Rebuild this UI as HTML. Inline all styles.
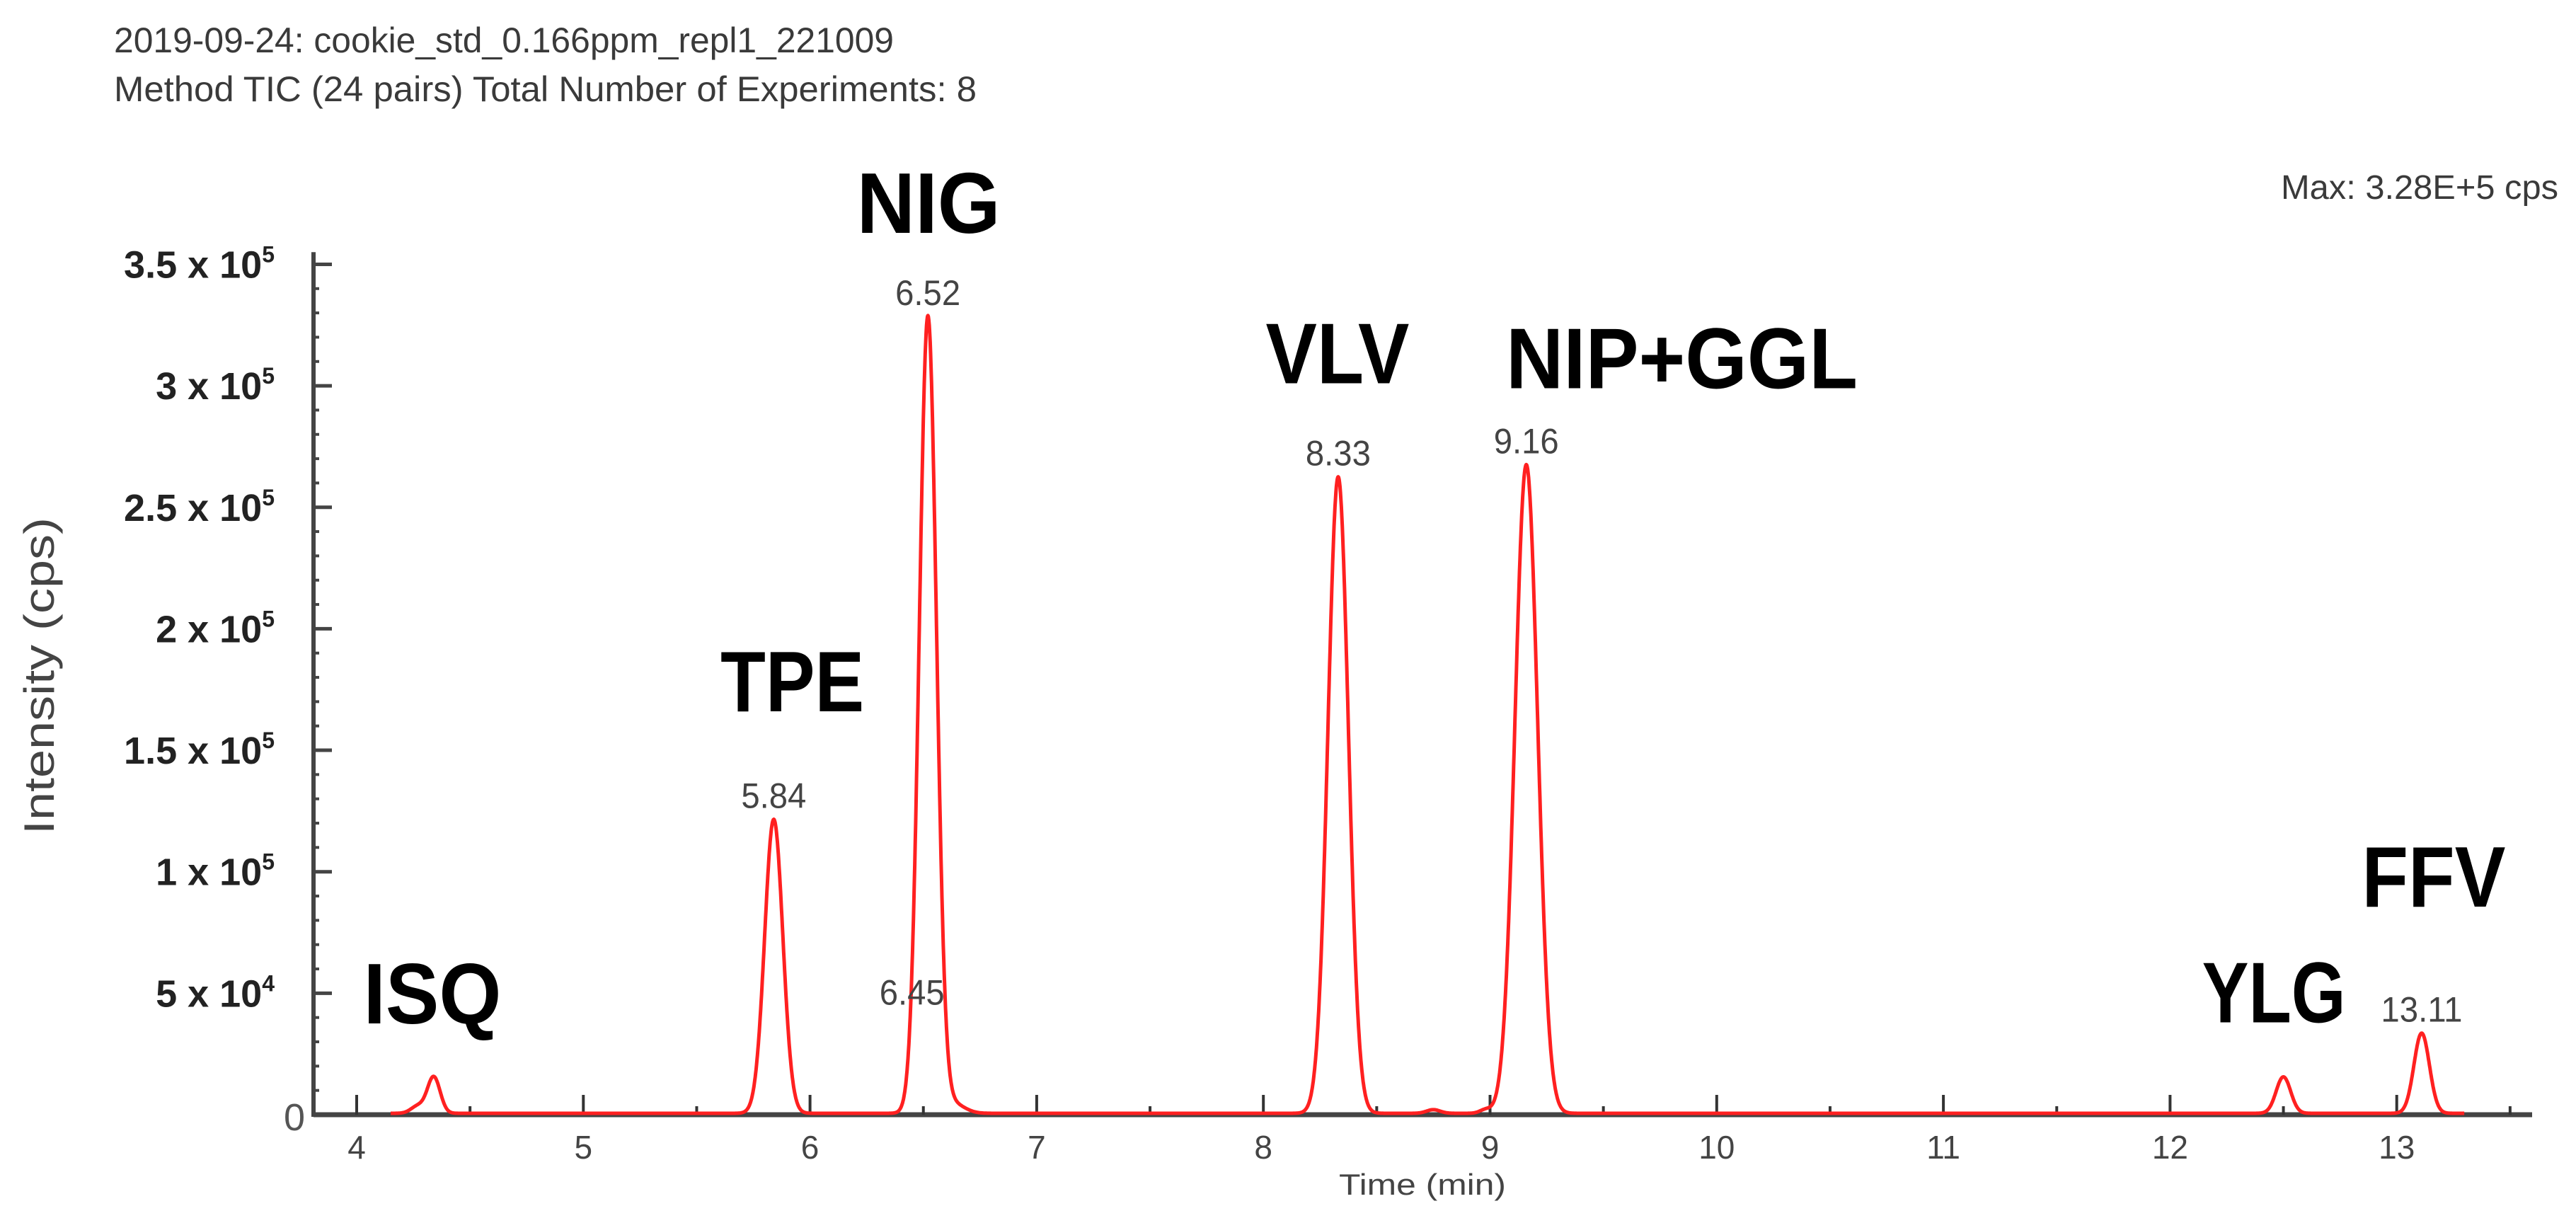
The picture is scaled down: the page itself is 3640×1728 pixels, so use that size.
<!DOCTYPE html>
<html><head><meta charset="utf-8"><style>
html,body{margin:0;padding:0;background:#fff;}
svg{display:block;font-family:"Liberation Sans",sans-serif;}
</style></head><body>
<svg id="chart" width="3640" height="1728" viewBox="0 0 3640 1728" xmlns="http://www.w3.org/2000/svg">
<rect width="3640" height="1728" fill="#fff"/>
<text x="161" y="74" font-size="50" fill="#3a3a3a" textLength="1102" lengthAdjust="spacingAndGlyphs">2019-09-24: cookie_std_0.166ppm_repl1_221009</text>
<text x="161" y="143" font-size="50" fill="#3a3a3a" textLength="1219" lengthAdjust="spacingAndGlyphs">Method TIC (24 pairs) Total Number of Experiments: 8</text>
<text x="3223" y="281" font-size="48" fill="#3a3a3a" textLength="392" lengthAdjust="spacingAndGlyphs">Max: 3.28E+5 cps</text>
<text transform="translate(76,955) rotate(-90)" text-anchor="middle" font-size="60" fill="#444" textLength="448" lengthAdjust="spacingAndGlyphs">Intensity (cps)</text>
<text x="2010" y="1688" text-anchor="middle" font-size="42" fill="#444" textLength="236" lengthAdjust="spacingAndGlyphs">Time (min)</text>
<g id="axes"></g>
<g id="trace"></g>
<g id="labels"></g>
</svg>
<script>
// ---- data ----
const peakTimes   = [4.27, 4.34, 5.84, 6.52, 6.63, 8.33, 8.75, 8.98, 9.16, 12.50, 13.11];
const peakHeights = [3000, 15000, 121000, 328000, 4000, 262000, 1500, 1500, 267000, 15000, 33000];
const peakWidths  = [0.03, 0.028, 0.04, 0.038, 0.05, 0.045, 0.03, 0.025, 0.05, 0.032, 0.034];
const xTicks = [4,5,6,7,8,9,10,11,12,13];
const yTicks = [0, 50000, 100000, 150000, 200000, 250000, 300000, 350000];
const yTickMant = ["0","5","1","1.5","2","2.5","3","3.5"];
const yTickExp  = ["","4","5","5","5","5","5","5"];
const rtLabels = ["5.84","6.52","6.45","8.33","9.16","13.11"];
const rtLabelT = [5.84, 6.52, 6.45, 8.33, 9.16, 13.11];
const rtLabelI = [121000, 328000, 40000, 262000, 267000, 33000];
const names  = ["ISQ","TPE","NIG","VLV","NIP+GGL","YLG","FFV"];
const nameT  = [4.334, 5.922, 6.523, 8.327, 9.846, 12.458, 13.163];
const nameI  = [37600, 166000, 363000, 301000, 299000, 38000, 85600];

// ---- axes ----
const X0 = 443, X1 = 3578, Y0 = 1575;
const xs = t => 504 + (t - 4) * 320.3;
const ys = v => Y0 - v / 100000 * 343.3;
const NS = "http://www.w3.org/2000/svg";
function mk(tag, attrs, parent){const e=document.createElementNS(NS,tag);for(const k in attrs)e.setAttribute(k,attrs[k]);parent.appendChild(e);return e;}
const axes = document.getElementById('axes');
let el = mk('line',{x1:X0,y1:Y0,x2:X1,y2:Y0,stroke:'#444','stroke-width':7},axes);
 
el = mk('line',{x1:X0,y1:Y0+3,x2:X0,y2:ys(355000),stroke:'#444','stroke-width':6},axes);
 
for(let v=0; v<=350000; v+=10000){
  const t = mk('line',{x1:X0,y1:ys(v),x2:X0+8,y2:ys(v),stroke:'#444','stroke-width':4},axes);
   
}
yTicks.forEach((v,i)=>{
  const t = mk('line',{x1:X0,y1:ys(v),x2:X0+26,y2:ys(v),stroke:'#444','stroke-width':5},axes);
   
  const lab = mk('text',{x: v===0?431:388, y: ys(v)+19, 'text-anchor':'end','font-size':54,'font-weight': v===0?'normal':'bold',fill: v===0?'#555':'#222'},axes);
   
  if(v===0){ lab.textContent = '0'; lab.setAttribute('y', Y0+22); }
  else {
    lab.textContent = yTickMant[i] + ' x 10';
    const s = document.createElementNS(NS,'tspan');
    s.setAttribute('font-size','32'); s.setAttribute('dy','-22');
    s.textContent = yTickExp[i]; lab.appendChild(s);
  }
});
for(let t2=4; t2<=13.5; t2+=0.5){
  const major = Number.isInteger(t2);
  const t = mk('line',{x1:xs(t2),y1:Y0,x2:xs(t2),y2:Y0-(major?28:12),stroke:'#333','stroke-width':4},axes);
   
}
xTicks.forEach(v=>{
  const lab = mk('text',{x:xs(v),y:1637,'text-anchor':'middle','font-size':46,fill:'#444'},axes);
   
  lab.textContent = String(v);
});

// ---- trace ----
function intensity(t){
  let s = 0;
  for(let i=0;i<peakTimes.length;i++){const d=(t-peakTimes[i])/peakWidths[i]; s += peakHeights[i]*Math.exp(-0.5*d*d);}
  return s;
}
let d = '';
for(let t=4.15; t<=13.3; t+=0.002){
  d += (d?'L':'M') + xs(t).toFixed(1) + ',' + (ys(intensity(t))-2).toFixed(1);
}
const path = mk('path',{d:d,fill:'none',stroke:'#ff2020','stroke-width':5,'stroke-linejoin':'round'},document.getElementById('trace'));
 

// ---- labels ----
const lg = document.getElementById('labels');
rtLabels.forEach((s,i)=>{
  const lab = mk('text',{x:xs(rtLabelT[i]),y:ys(rtLabelI[i])-18,'text-anchor':'middle','font-size':50,fill:'#444'},lg);
   
  lab.setAttribute('textLength', s.length*23); lab.setAttribute('lengthAdjust','spacingAndGlyphs');
  lab.textContent = s;
});
names.forEach((s,i)=>{
  const lab = mk('text',{x:xs(nameT[i]),y:ys(nameI[i]),'text-anchor':'middle','font-size':122,'font-weight':'bold',fill:'#000'},lg);
   
  lab.setAttribute('textLength', s.length===7?497:(s==='ISQ'?195:203)); lab.setAttribute('lengthAdjust','spacingAndGlyphs');
  lab.textContent = s;
});
</script>
</body></html>
